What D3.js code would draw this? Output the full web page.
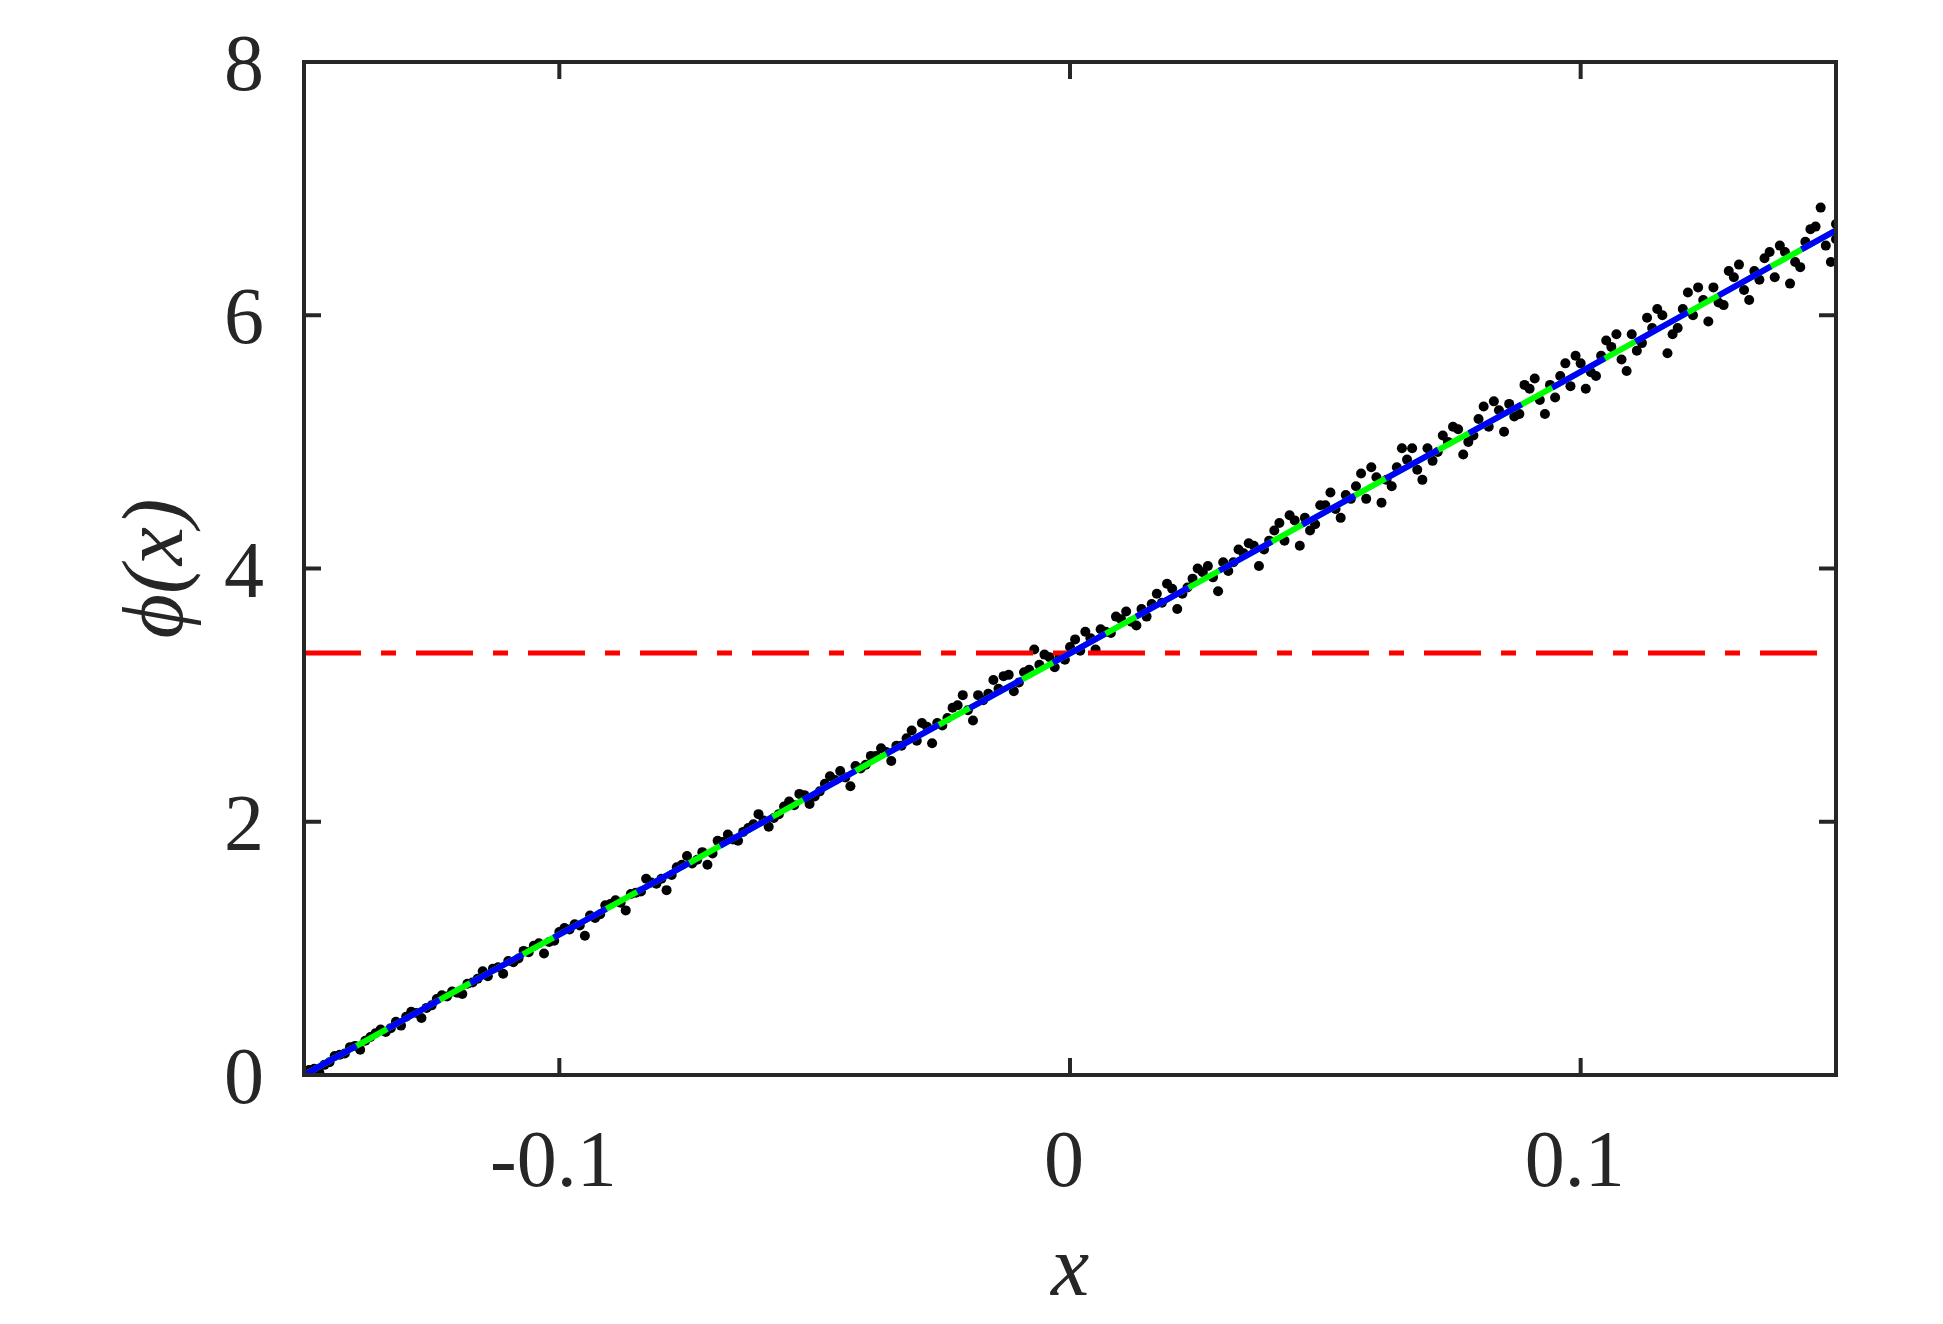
<!DOCTYPE html>
<html>
<head>
<meta charset="utf-8">
<script src="https://cdn.jsdelivr.net/npm/d3@7"></script>
<style>
  body { margin: 0; background: #fff; }
  text { font-family: "Times New Roman", "Liberation Serif", Times, serif; fill: #262626; }
</style>
</head>
<body>
<svg id="chart"></svg>
<script>
// Dimension constants
const WIDTH = 1943;
const HEIGHT = 1324;
const LEFT = 304, RIGHT = 1836, TOP = 62, BOTTOM = 1075;

// data
const xTicks = [-0.1, 0, 0.1];
const yTicks = [0, 2, 4, 6, 8];
const meanLevel = 3.333;

const fitX = [-0.15, -0.12, -0.09, -0.06, -0.03, 0, 0.03, 0.06, 0.09, 0.12, 0.15];
const fitY = [0, 0.67, 1.33, 2.0, 2.67, 3.33, 4.0, 4.67, 5.33, 6.0, 6.67];

const sampleX = [
  -0.150, -0.148, -0.146, -0.144, -0.142, -0.140, -0.138, -0.136, -0.134, -0.132,
  -0.130, -0.128, -0.126, -0.124, -0.122, -0.120, -0.118, -0.116, -0.114, -0.112,
  -0.110, -0.108, -0.106, -0.104, -0.102, -0.100, -0.098, -0.096, -0.094, -0.092,
  -0.090, -0.088, -0.086, -0.084, -0.082, -0.080, -0.078, -0.076, -0.074, -0.072,
  -0.070, -0.068, -0.066, -0.064, -0.062, -0.060, -0.058, -0.056, -0.054, -0.052,
  -0.050, -0.048, -0.046, -0.044, -0.042, -0.040, -0.038, -0.036, -0.034, -0.032,
  -0.030, -0.028, -0.026, -0.024, -0.022, -0.020, -0.018, -0.016, -0.014, -0.012,
  -0.010, -0.008, -0.006, -0.004, -0.002, 0.000, 0.002, 0.004, 0.006, 0.008,
  0.010, 0.012, 0.014, 0.016, 0.018, 0.020, 0.022, 0.024, 0.026, 0.028,
  0.030, 0.032, 0.034, 0.036, 0.038, 0.040, 0.042, 0.044, 0.046, 0.048,
  0.050, 0.052, 0.054, 0.056, 0.058, 0.060, 0.062, 0.064, 0.066, 0.068,
  0.070, 0.072, 0.074, 0.076, 0.078, 0.080, 0.082, 0.084, 0.086, 0.088,
  0.090, 0.092, 0.094, 0.096, 0.098, 0.100, 0.102, 0.104, 0.106, 0.108,
  0.110, 0.112, 0.114, 0.116, 0.118, 0.120, 0.122, 0.124, 0.126, 0.128,
  0.130, 0.132, 0.134, 0.136, 0.138, 0.140, 0.142, 0.144, 0.146, 0.148, 0.150,
  -0.149, -0.145, -0.141, -0.137, -0.133, -0.129, -0.125, -0.121, -0.117, -0.113,
  -0.109, -0.105, -0.101, -0.097, -0.093, -0.089, -0.085, -0.081, -0.077, -0.073,
  -0.069, -0.065, -0.061, -0.057, -0.053, -0.049, -0.045, -0.041, -0.037, -0.033,
  -0.029, -0.025, -0.021, -0.017, -0.013, -0.009, -0.005, -0.001, 0.003, 0.007,
  0.011, 0.015, 0.019, 0.023, 0.027, 0.031, 0.035, 0.039, 0.043, 0.047,
  0.051, 0.055, 0.059, 0.063, 0.067, 0.071, 0.075, 0.079, 0.083, 0.087,
  0.091, 0.095, 0.099, 0.103, 0.107, 0.111, 0.115, 0.119, 0.123, 0.127,
  0.131, 0.135, 0.139, 0.143, 0.147, 0.150,
  -0.147, -0.143, -0.139, -0.135, -0.131, -0.127, -0.123, -0.119, -0.115, -0.111,
  -0.107, -0.103, -0.099, -0.095, -0.091, -0.087, -0.083, -0.079, -0.075, -0.071,
  -0.067, -0.063, -0.059, -0.055, -0.051, -0.047, -0.043, -0.039, -0.035, -0.031,
  -0.027, -0.023, -0.019, -0.015, -0.011, -0.007, -0.003, 0.001, 0.005, 0.009,
  0.013, 0.017, 0.021, 0.025, 0.029, 0.033, 0.037, 0.041, 0.045, 0.049,
  0.053, 0.057, 0.061, 0.065, 0.069, 0.073, 0.077, 0.081, 0.085, 0.089,
  0.093, 0.097, 0.101, 0.105, 0.109, 0.113, 0.117, 0.121, 0.125, 0.129,
  0.133, 0.137, 0.141, 0.145, 0.149
];
const sampleY = [
  0.00, 0.05, 0.08, 0.15, 0.17, 0.23, 0.27, 0.33, 0.34, 0.42,
  0.46, 0.49, 0.53, 0.60, 0.62, 0.65, 0.72, 0.76, 0.78, 0.85,
  0.90, 0.92, 0.97, 1.04, 1.05, 1.13, 1.15, 1.18, 1.26, 1.27,
  1.35, 1.36, 1.43, 1.45, 1.52, 1.55, 1.58, 1.66, 1.67, 1.76,
  1.75, 1.84, 1.86, 1.92, 1.98, 2.01, 2.03, 2.12, 2.13, 2.21,
  2.20, 2.30, 2.33, 2.35, 2.44, 2.45, 2.52, 2.55, 2.60, 2.66,
  2.64, 2.75, 2.78, 2.82, 2.92, 2.88, 3.00, 3.01, 3.05, 3.16,
  3.10, 3.20, 3.24, 3.30, 3.30, 3.38, 3.35, 3.45, 3.52, 3.49,
  3.60, 3.58, 3.68, 3.72, 3.73, 3.84, 3.80, 3.92, 3.97, 3.93,
  4.05, 4.05, 4.12, 4.18, 4.15, 4.30, 4.22, 4.38, 4.40, 4.35,
  4.50, 4.47, 4.58, 4.65, 4.55, 4.72, 4.70, 4.80, 4.86, 4.78,
  4.95, 4.92, 5.00, 5.10, 5.00, 5.18, 5.12, 5.25, 5.30, 5.22,
  5.42, 5.33, 5.45, 5.52, 5.44, 5.62, 5.55, 5.68, 5.75, 5.65,
  5.85, 5.78, 5.90, 6.00, 5.85, 6.05, 6.00, 6.12, 6.22, 6.08,
  6.30, 6.20, 6.35, 6.45, 6.30, 6.50, 6.42, 6.58, 6.70, 6.55, 6.72,
  0.04, 0.10, 0.22, 0.30, 0.37, 0.50, 0.55, 0.66, 0.73, 0.84,
  0.89, 1.02, 1.06, 1.19, 1.24, 1.38, 1.44, 1.51, 1.64, 1.70,
  1.85, 1.85, 2.06, 2.06, 2.22, 2.24, 2.40, 2.42, 2.58, 2.60,
  2.78, 2.76, 3.00, 2.96, 3.15, 3.18, 3.32, 3.28, 3.50, 3.50,
  3.66, 3.62, 3.88, 3.85, 4.02, 3.98, 4.20, 4.22, 4.42, 4.30,
  4.60, 4.55, 4.80, 4.65, 4.95, 4.85, 5.12, 5.05, 5.32, 5.20,
  5.50, 5.35, 5.68, 5.52, 5.85, 5.72, 6.05, 5.90, 6.22, 6.10,
  6.40, 6.28, 6.55, 6.38, 6.85, 6.60,
  0.02, 0.16, 0.20, 0.36, 0.39, 0.45, 0.63, 0.64, 0.82, 0.80,
  0.98, 0.96, 1.16, 1.10, 1.34, 1.30, 1.55, 1.46, 1.73, 1.66,
  1.90, 1.95, 1.96, 2.16, 2.14, 2.36, 2.28, 2.52, 2.48, 2.72,
  2.62, 2.90, 2.80, 3.12, 3.03, 3.36, 3.22, 3.44, 3.36, 3.62,
  3.55, 3.80, 3.68, 4.00, 3.82, 4.15, 4.02, 4.36, 4.18, 4.50,
  4.40, 4.75, 4.52, 4.95, 4.70, 5.05, 4.90, 5.28, 5.08, 5.45,
  5.22, 5.62, 5.42, 5.80, 5.56, 5.98, 5.70, 6.18, 5.95, 6.35,
  6.12, 6.50, 6.25, 6.68, 6.42
];

const svg = d3.select('#chart')
    .attr('width', WIDTH)
    .attr('height', HEIGHT);

const x = d3.scaleLinear().domain([-0.15, 0.15]).range([LEFT, RIGHT]);
const y = d3.scaleLinear().domain([0, 8]).range([BOTTOM, TOP]);

svg.append('clipPath').attr('id', 'clip')
  .append('rect')
    .attr('x', LEFT).attr('y', TOP)
    .attr('width', RIGHT - LEFT).attr('height', BOTTOM - TOP);

const plot = svg.append('g').attr('clip-path', 'url(#clip)');

// scatter
plot.selectAll('.dot')
    .data(sampleX.map((d, i) => [d, sampleY[i]])).enter().append('circle')
    .attr('class', 'dot')
    .attr('cx', d => x(d[0]))
    .attr('cy', d => y(d[1]))
    .attr('r', 5)
    .attr('fill', '#000');

// mean level
plot.append('line')
    .attr('x1', LEFT).attr('x2', RIGHT)
    .attr('y1', y(meanLevel)).attr('y2', y(meanLevel))
    .attr('stroke', '#ff0000')
    .attr('stroke-width', 5)
    .attr('stroke-dasharray', '57,20,15,20');

// fitted curve: green solid under blue dashed
const fit = fitX.map((d, i) => [d, fitY[i]]);
const line = d3.line().x(d => x(d[0])).y(d => y(d[1]));
plot.append('path').attr('d', line(fit))
    .attr('fill', 'none').attr('stroke', '#00ff00').attr('stroke-width', 6);
plot.append('path').attr('d', line(fit))
    .attr('fill', 'none').attr('stroke', '#0000ff').attr('stroke-width', 6)
    .attr('stroke-dasharray', '60,35');

// axes box
const AXIS = '#262626';
svg.append('rect')
    .attr('x', LEFT).attr('y', TOP)
    .attr('width', RIGHT - LEFT).attr('height', BOTTOM - TOP)
    .attr('fill', 'none').attr('stroke', AXIS).attr('stroke-width', 4);

const TICK = 17;
xTicks.forEach(t => {
  svg.append('line').attr('x1', x(t)).attr('x2', x(t))
      .attr('y1', BOTTOM).attr('y2', BOTTOM - TICK)
      .attr('stroke', AXIS).attr('stroke-width', 4);
  svg.append('line').attr('x1', x(t)).attr('x2', x(t))
      .attr('y1', TOP).attr('y2', TOP + TICK)
      .attr('stroke', AXIS).attr('stroke-width', 4);
  svg.append('text')
      .attr('x', x(t) - 6).attr('y', 1186)
      .attr('text-anchor', 'middle')
      .attr('font-size', 80)
      .text(t === 0 ? '0' : String(t));
});

yTicks.forEach(t => {
  svg.append('line').attr('x1', LEFT).attr('x2', LEFT + TICK)
      .attr('y1', y(t)).attr('y2', y(t))
      .attr('stroke', AXIS).attr('stroke-width', 4);
  svg.append('line').attr('x1', RIGHT).attr('x2', RIGHT - TICK)
      .attr('y1', y(t)).attr('y2', y(t))
      .attr('stroke', AXIS).attr('stroke-width', 4);
  svg.append('text')
      .attr('x', 264).attr('y', y(t) + 28)
      .attr('text-anchor', 'end')
      .attr('font-size', 80)
      .text(t);
});

// axis labels
svg.append('text')
    .attr('x', x(0)).attr('y', 1295)
    .attr('text-anchor', 'middle')
    .attr('font-size', 86)
    .attr('font-style', 'italic')
    .text('x');

svg.append('text')
    .attr('transform', `translate(182, ${(TOP + BOTTOM) / 2}) rotate(-90)`)
    .attr('text-anchor', 'middle')
    .attr('font-size', 86)
    .attr('font-style', 'italic')
    .text('ϕ(x)');
</script>
</body>
</html>
